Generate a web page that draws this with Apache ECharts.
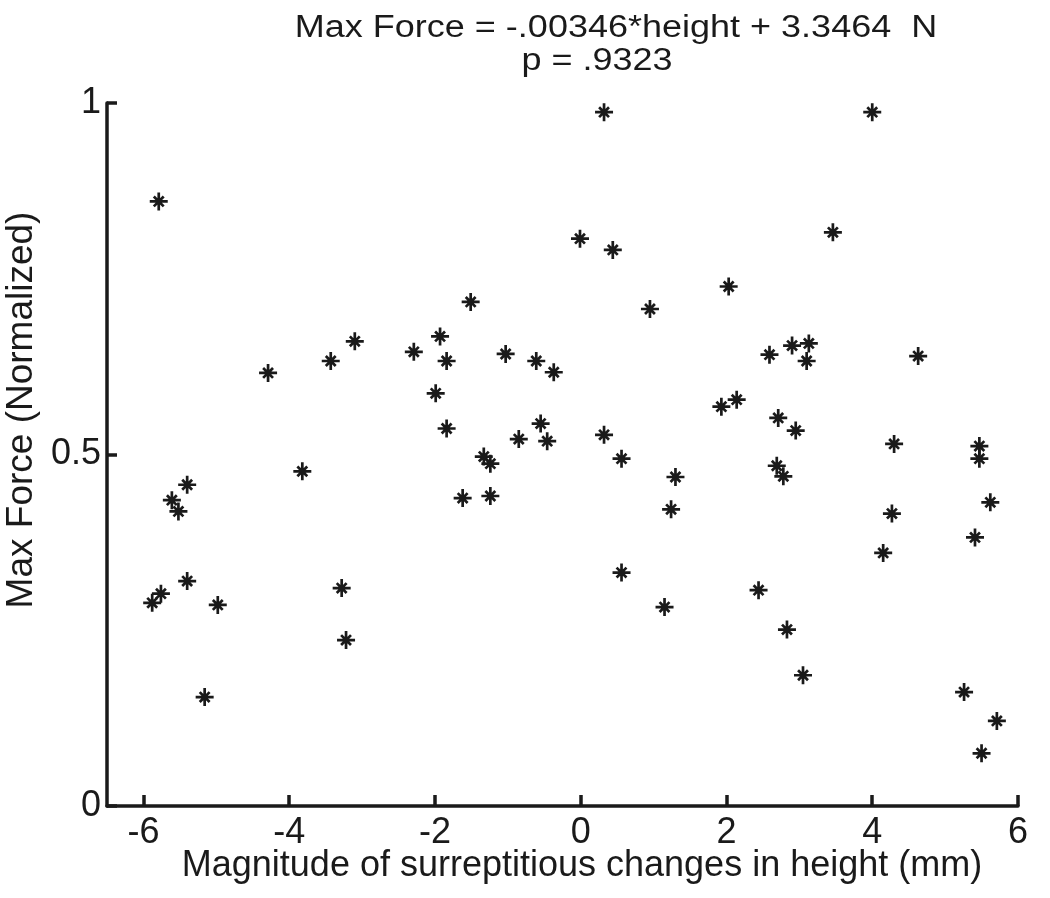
<!DOCTYPE html>
<html>
<head>
<meta charset="utf-8">
<script src="https://cdn.jsdelivr.net/npm/echarts@6/dist/echarts.min.js"></script>
<style>
  html, body { margin: 0; padding: 0; background: #ffffff; }
  #chart { width: 1050px; height: 898px; }
</style>
</head>
<body>
<div id="chart"></div>
<script>
// Data
const heightChange = [
  -5.79, -4.29, -3.43, -3.82, -5.40, -5.61, -5.52, -5.40, -5.76, -5.88,
  -4.98, -5.16, -3.28, -3.22, 0.32, -0.01, 0.44, -1.51, 0.95, -3.10,
  -1.93, -2.29, -1.84, -1.03, -0.61, -0.37, -1.99, -1.84, -0.55, -0.85,
  -0.46, 0.32, 0.56, -1.33, -1.24, 1.30, -1.62, -1.24, 1.24, 0.56,
  1.15, 4.00, 3.46, 2.03, 2.59, 2.90, 3.13, 3.10, 4.63, 1.93,
  2.14, 2.71, 2.95, 4.30, 5.47, 5.47, 2.69, 2.78, 5.62, 4.27,
  5.41, 4.15, 2.44, 2.83, 3.05, 5.26, 5.71, 5.50
];
const maxForce = [
  0.860, 0.616, 0.633, 0.476, 0.457, 0.435, 0.419, 0.320, 0.302, 0.289,
  0.286, 0.155, 0.310, 0.236, 0.987, 0.807, 0.791, 0.717, 0.707, 0.661,
  0.668, 0.646, 0.633, 0.643, 0.633, 0.617, 0.587, 0.537, 0.544, 0.522,
  0.519, 0.528, 0.494, 0.497, 0.487, 0.468, 0.438, 0.441, 0.422, 0.332,
  0.283, 0.987, 0.816, 0.739, 0.642, 0.655, 0.658, 0.633, 0.640, 0.568,
  0.578, 0.552, 0.534, 0.515, 0.512, 0.494, 0.484, 0.469, 0.432, 0.416,
  0.382, 0.360, 0.307, 0.251, 0.186, 0.162, 0.121, 0.075
];
const xTicks = [-6, -4, -2, 0, 2, 4, 6];
const yTicks = [0, 0.5, 1];
const titleLine1 = 'Max Force = -.00346*height + 3.3464  N';
const titleLine2 = 'p = .9323';
const xLabel = 'Magnitude of surreptitious changes in height (mm)';
const yLabel = 'Max Force (Normalized)';

const points = heightChange.map((x, i) => [x, maxForce[i]]);
const FONT = '"Liberation Sans", Arial, Helvetica, sans-serif';
const INK = '#1a1a1a';

const chart = echarts.init(document.getElementById('chart'), null, { renderer: 'canvas' });
chart.setOption({
  backgroundColor: '#ffffff',
  animation: false,
  grid: { left: 107, right: 32, top: 103, bottom: 92, containLabel: false },
  xAxis: {
    type: 'value',
    min: -6.5,
    max: 6,
    axisLine: { show: true, onZero: false, lineStyle: { color: INK, width: 3.5 } },
    axisTick: { show: true, inside: true, length: 11, customValues: xTicks, lineStyle: { color: INK, width: 3.5 } },
    axisLabel: { show: true, customValues: xTicks, margin: 9, color: INK, fontSize: 36, fontFamily: FONT },
    splitLine: { show: false }
  },
  yAxis: {
    type: 'value',
    min: 0,
    max: 1,
    axisLine: { show: true, onZero: false, lineStyle: { color: INK, width: 3.5 } },
    axisTick: { show: true, inside: true, length: 10, customValues: yTicks, lineStyle: { color: INK, width: 3.5 } },
    axisLabel: { show: true, customValues: yTicks, margin: 6, color: INK, fontSize: 36, fontFamily: FONT,
      formatter: v => String(v) },
    splitLine: { show: false }
  },
  graphic: [
    { type: 'text', x: 616, y: 28, scaleY: 0.88, style: { text: titleLine1, font: '36px ' + FONT, fill: INK, align: 'center', verticalAlign: 'middle' } },
    { type: 'text', x: 597, y: 61, scaleY: 0.88, style: { text: titleLine2, font: '36px ' + FONT, fill: INK, align: 'center', verticalAlign: 'middle' } },
    { type: 'text', x: 582, y: 866, style: { text: xLabel, font: '36px ' + FONT, fill: INK, align: 'center', verticalAlign: 'middle' } },
    { type: 'text', x: 22, y: 410, rotation: Math.PI / 2, style: { text: yLabel, font: '37px ' + FONT, fill: INK, align: 'center', verticalAlign: 'middle' } }
  ],
  series: [{
    type: 'scatter',
    data: points,
    symbol: 'path://M0,-1L0,1M-1,0L1,0M-0.55,-0.55L0.55,0.55M-0.55,0.55L0.55,-0.55',
    symbolSize: 18,
    itemStyle: { color: INK, borderColor: INK, borderWidth: 2.7, opacity: 1 },
    emphasis: { disabled: true }
  }]
});
</script>
</body>
</html>
